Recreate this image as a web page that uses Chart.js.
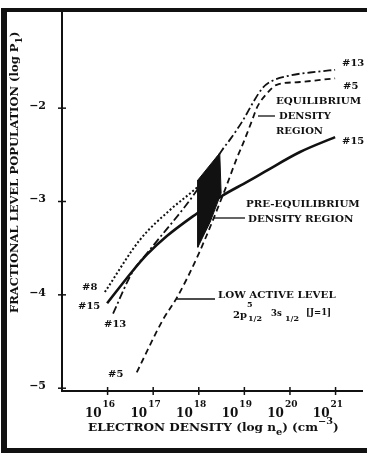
<!DOCTYPE html>
<html>
<head>
<meta charset="utf-8">
<script src="https://cdn.jsdelivr.net/npm/chart.js@4.4.0/dist/chart.umd.min.js"></script>
<style>
html,body{margin:0;padding:0;background:#fff;}
canvas{display:block;}
</style>
</head>
<body>
<canvas id="c" width="367" height="456"></canvas>
<script>
// ---- data (log10 electron density vs log10 fractional population) ----
const xTickExponents = [16, 17, 18, 19, 20, 21];
const yTickValues = [-2, -3, -4, -5];

const curve15X = [15.99, 16.54, 16.86, 17.30, 17.98, 18.51, 19.06, 19.45, 20.22, 20.99];
const curve15Y = [-4.09, -3.75, -3.57, -3.37, -3.12, -2.94, -2.79, -2.68, -2.47, -2.31];

const curve8X = [15.94, 16.71, 17.37, 17.96, 18.10];
const curve8Y = [-3.97, -3.41, -3.09, -2.85, -2.78];

const curve13X = [16.12, 16.54, 16.89, 17.96, 18.51, 18.68, 18.97, 19.19, 19.39, 19.56, 20.00, 20.59, 20.99];
const curve13Y = [-4.20, -3.76, -3.54, -2.88, -2.45, -2.34, -2.13, -1.94, -1.79, -1.72, -1.65, -1.61, -1.59];

const curve5X = [16.64, 17.21, 17.52, 17.98, 18.57, 18.84, 18.97, 19.17, 19.28, 19.50, 19.71, 20.22, 20.99];
const curve5Y = [-4.83, -4.27, -4.03, -3.58, -2.88, -2.53, -2.38, -2.13, -1.99, -1.84, -1.75, -1.72, -1.68];

const regionX = [18.46, 17.98, 17.98, 18.25, 18.49, 18.46];
const regionY = [-2.48, -2.77, -3.49, -3.22, -2.91, -2.48];

const pts = (xs, ys) => xs.map((x, i) => ({x: x, y: ys[i]}));

const FONT = '"DejaVu Serif", "Liberation Serif", serif';
const INK = '#111';

function rich(ctx, parts, x, y, align, sx) {
  // parts: [text, size, dy, extraGap]
  sx = sx || 1;
  let total = 0;
  parts.forEach(p => { ctx.font = 'bold ' + p[1] + 'px ' + FONT; total += (ctx.measureText(p[0]).width + (p[3] || 0)) * sx; });
  let cx = align === 'center' ? x - total / 2 : (align === 'right' ? x - total : x);
  parts.forEach(p => {
    ctx.font = 'bold ' + p[1] + 'px ' + FONT;
    ctx.save();
    ctx.translate(cx, y + (p[2] || 0));
    ctx.scale(sx, 1);
    ctx.fillText(p[0], 0, 0);
    ctx.restore();
    cx += (ctx.measureText(p[0]).width + (p[3] || 0)) * sx;
  });
}

const framePlugin = {
  id: 'frame',
  beforeDraw(chart) {
    const ctx = chart.ctx;
    ctx.save();
    ctx.fillStyle = '#fff';
    ctx.fillRect(0, 0, chart.width, chart.height);
    ctx.fillStyle = INK;
    ctx.fillRect(1, 8, 366, 4);
    ctx.fillRect(1, 8, 6, 445);
    ctx.fillRect(1, 448, 366, 5);
    ctx.restore();
  },
  afterDraw(chart) {
    const ctx = chart.ctx;
    const xs = chart.scales.x, ys = chart.scales.y;
    const a = chart.chartArea;
    ctx.save();
    ctx.strokeStyle = INK;
    ctx.fillStyle = INK;
    ctx.lineWidth = 1.5;
    ctx.textAlign = 'left';
    // tick crosses and labels
    yTickValues.forEach(v => {
      const py = ys.getPixelForValue(v);
      ctx.beginPath(); ctx.moveTo(a.left - 4, py); ctx.lineTo(a.left + 4, py); ctx.stroke();
      ctx.textBaseline = 'middle';
      rich(ctx, [['\u2212' + Math.abs(v), 11, 0]], 46, py - 2, 'right');
    });
    ctx.textBaseline = 'alphabetic';
    xTickExponents.forEach(e => {
      const px = xs.getPixelForValue(e);
      ctx.beginPath(); ctx.moveTo(px, a.bottom - 4); ctx.lineTo(px, a.bottom + 4); ctx.stroke();
      rich(ctx, [['10', 12, 0, 1]], px - 5, 417, 'right');
      rich(ctx, [[String(e), 9, 0]], px - 5, 407, 'left');
    });
    // x title
    rich(ctx, [['ELECTRON DENSITY (log n', 10.5, 0], ['e', 8.5, 4], [') (cm', 10.5, 0], ['\u22123', 8.5, -7], [')', 10.5, 0]], 88, 431, 'left', 1.15);
    // y title (rotated)
    ctx.save();
    ctx.translate(18, 313);
    ctx.rotate(-Math.PI / 2);
    rich(ctx, [['FRACTIONAL LEVEL POPULATION (log P', 10.5, 0], ['1', 8.5, 4], [')', 10.5, 0]], 0, 0, 'left', 1.1);
    ctx.restore();
    // curve labels
    const lab = (t, x, y, s, sx) => rich(ctx, [[t, s || 10, 0]], x, y, 'left', sx || 1);
    lab('#13', 342, 66); lab('#5', 343, 89); lab('#15', 342, 144);
    lab('#8', 82, 290); lab('#15', 78, 309); lab('#13', 104, 327); lab('#5', 108, 377);
    // region annotations
    lab('EQUILIBRIUM', 276, 104, 10, 1.03);
    lab('DENSITY', 279, 119, 10, 1.0);
    lab('REGION', 276, 134, 10, 1.0);
    lab('PRE-EQUILIBRIUM', 246, 207, 10, 1.03);
    lab('DENSITY REGION', 248, 222, 10, 1.03);
    lab('LOW ACTIVE LEVEL', 218, 298, 10, 1.03);
    rich(ctx, [['2p', 10, 0]], 233, 318, 'left');
    rich(ctx, [['5', 8, -11]], 247, 318, 'left');
    rich(ctx, [['1/2', 8, 3]], 248, 318, 'left');
    rich(ctx, [['3s', 8.5, -2]], 271, 318, 'left');
    rich(ctx, [['1/2', 8, 3]], 285, 318, 'left');
    rich(ctx, [['[J=1]', 8.5, -3]], 306, 318, 'left');
    // leader lines
    ctx.lineWidth = 1.3;
    const seg = (x1, y1, x2, y2) => { ctx.beginPath(); ctx.moveTo(x1, y1); ctx.lineTo(x2, y2); ctx.stroke(); };
    seg(258, 116, 275, 116);
    seg(214, 218, 245, 218);
    seg(176, 299, 215, 299);
    ctx.restore();
  }
};

new Chart(document.getElementById('c'), {
  type: 'scatter',
  data: {
    datasets: [
      { label: 'region', data: pts(regionX, regionY), showLine: true, borderColor: INK, backgroundColor: INK,
        borderWidth: 1, fill: 'shape', tension: 0, pointRadius: 0 },
      { label: '#15', data: pts(curve15X, curve15Y), showLine: true, borderColor: INK, borderWidth: 2.6,
        cubicInterpolationMode: 'monotone', pointRadius: 0, fill: false },
      { label: '#8', data: pts(curve8X, curve8Y), showLine: true, borderColor: INK, borderWidth: 2,
        borderDash: [2, 2.2], cubicInterpolationMode: 'monotone', pointRadius: 0, fill: false },
      { label: '#13', data: pts(curve13X, curve13Y), showLine: true, borderColor: INK, borderWidth: 1.8,
        borderDash: [8, 3, 2, 3], cubicInterpolationMode: 'monotone', pointRadius: 0, fill: false },
      { label: '#5', data: pts(curve5X, curve5Y), showLine: true, borderColor: INK, borderWidth: 1.8,
        borderDash: [6, 4], cubicInterpolationMode: 'monotone', pointRadius: 0, fill: false }
    ]
  },
  options: {
    responsive: false,
    animation: false,
    devicePixelRatio: 1,
    layout: { padding: { left: 62, top: 12, right: 5, bottom: 65 } },
    plugins: { legend: { display: false }, tooltip: { enabled: false } },
    scales: {
      x: { type: 'linear', min: 15, max: 21.58,
           ticks: { display: false }, grid: { display: false, drawTicks: false },
           border: { display: true, color: INK, width: 2 } },
      y: { type: 'linear', min: -5.03, max: -0.97,
           ticks: { display: false }, grid: { display: false, drawTicks: false },
           border: { display: true, color: INK, width: 2 } }
    }
  },
  plugins: [framePlugin]
});
</script>
</body>
</html>
